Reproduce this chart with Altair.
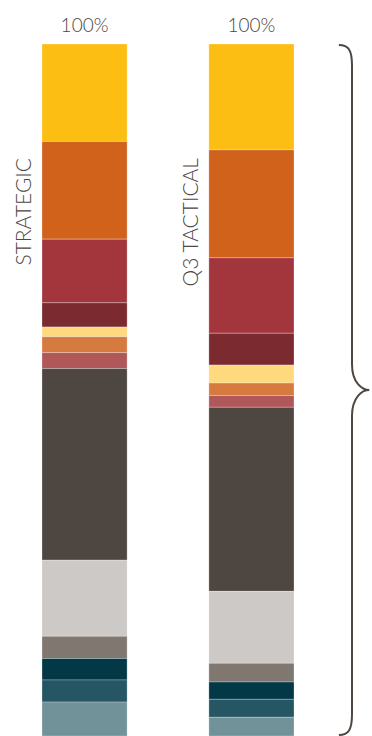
import altair as alt
import pandas as pd

# ---- data ----
bars = ["STRATEGIC", "Q3 TACTICAL"]
segments = ["S01", "S02", "S03", "S04", "S05", "S06", "S07",
            "S08", "S09", "S10", "S11", "S12", "S13"]
strategic = [14.1, 14.1, 9.2, 3.5, 1.4, 2.3, 2.3, 27.7, 11.0, 3.2, 3.1, 3.2, 4.9]
tactical = [15.3, 15.6, 10.9, 4.6, 2.6, 1.8, 1.7, 26.6, 10.4, 2.7, 2.5, 2.6, 2.7]
totals = [100, 100]
colors = ["#FDBE13", "#D0621C", "#A3363D", "#7B2A2F", "#FED97E", "#D67B40",
          "#B0575A", "#4D4641", "#CCC9C6", "#7F7770", "#033846", "#265663",
          "#72929A"]

rows = []
for b, vals in zip(bars, [strategic, tactical]):
    for i, (s, v) in enumerate(zip(segments, vals)):
        rows.append({"bar": b, "segment": s, "idx": i, "value": v})
df = pd.DataFrame(rows)
tot_df = pd.DataFrame({"bar": bars, "total": totals,
                       "label": [f"{t}%" for t in totals]})

TEXT = "#4D4641"
FONT = "Lato"

xscale = alt.Scale(domain=bars, paddingInner=0.49, paddingOuter=0)
yscale = alt.Scale(domain=[0, 100], nice=False)

stack = alt.Chart(df).mark_bar(stroke="white", strokeWidth=0.6,
                               strokeOpacity=0.45).encode(
    x=alt.X("bar:N", scale=xscale, axis=None, sort=bars),
    y=alt.Y("value:Q", stack="zero", scale=yscale, axis=None),
    color=alt.Color("segment:N", scale=alt.Scale(domain=segments, range=colors),
                    legend=None),
    order=alt.Order("idx:Q", sort="descending"),
)

top_labels = alt.Chart(tot_df).mark_text(
    font=FONT, fontSize=19, fontWeight=300, color=TEXT,
    baseline="alphabetic", dy=-12
).encode(
    x=alt.X("bar:N", scale=xscale, sort=bars),
    y=alt.Y("total:Q", scale=yscale),
    text="label:N",
)

side_labels = alt.Chart(tot_df).mark_text(
    font=FONT, fontSize=21, fontWeight=300, color=TEXT, angle=270,
    align="right", baseline="alphabetic", dy=-11
).encode(
    x=alt.X("bar:N", scale=xscale, sort=bars, bandPosition=0),
    y=alt.value(114),
    text="bar:N",
)

brace_path = ("M -0.038 -1 C -0.01 -1 0 -0.985 0 -0.94 L 0 -0.075 "
              "C 0 -0.02 0.03 0 0.05 0 C 0.03 0 0 0.02 0 0.075 "
              "L 0 0.94 C 0 0.985 -0.01 1 -0.038 1")
brace = alt.Chart(pd.DataFrame({"mid": [50]})).mark_point(
    shape=brace_path, filled=False, stroke=TEXT, strokeWidth=2, opacity=1,
    size=690 * 690,
).encode(
    x=alt.value(310),
    y=alt.Y("mid:Q", scale=yscale),
)

chart = alt.layer(stack, top_labels, side_labels, brace).properties(
    width=252, height=692,
    padding={"left": 42, "top": 44, "right": 78, "bottom": 0},
    autosize=alt.AutoSizeParams(type="none"),
).configure_view(stroke=None)

chart.save("out.html", embed_options={"renderer": "svg", "actions": False})
